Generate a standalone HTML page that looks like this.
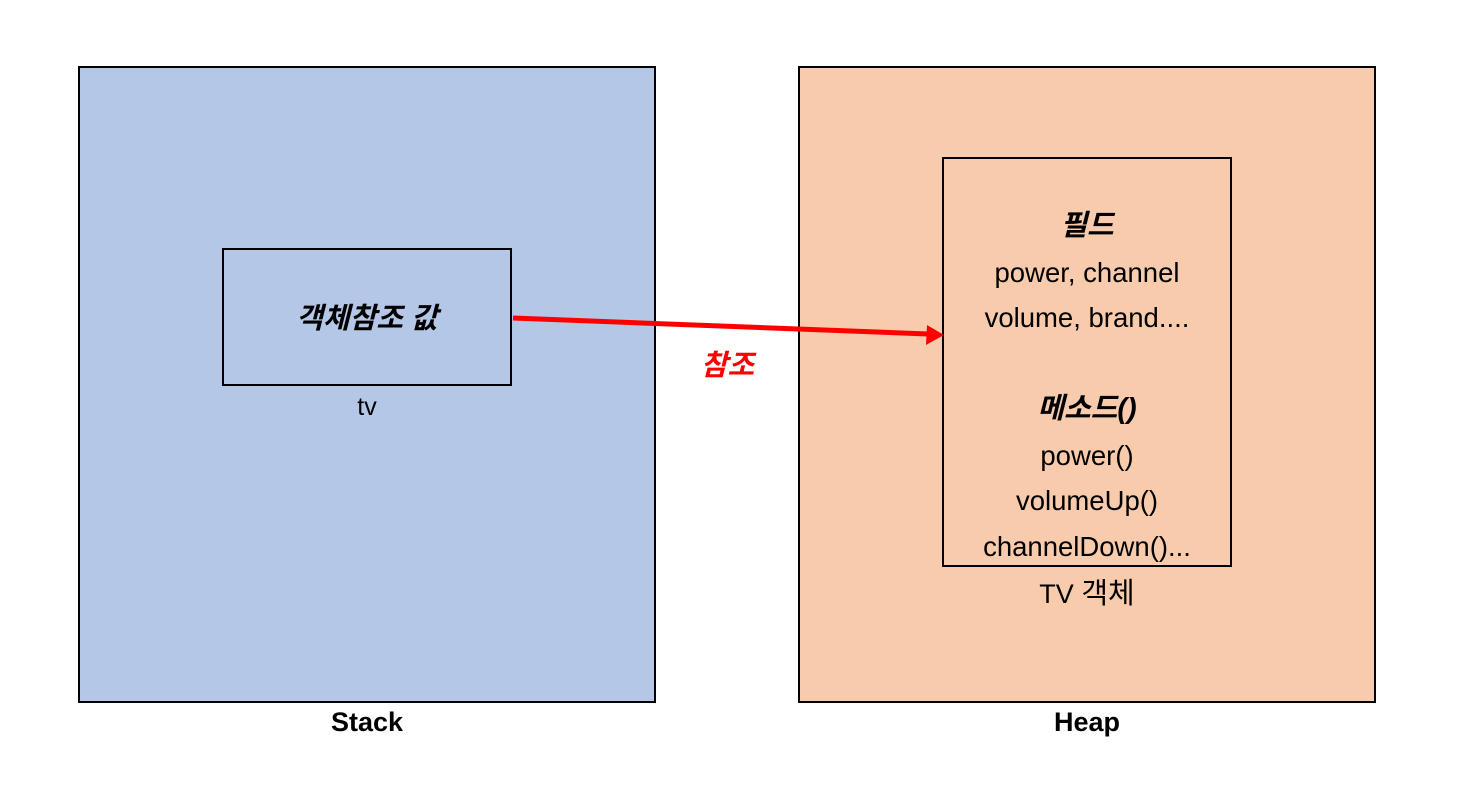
<!DOCTYPE html>
<html><head><style>
body{margin:0;width:1465px;height:792px;background:#fff;position:relative;font-family:"Liberation Sans","Noto Sans CJK KR",sans-serif;overflow:hidden}
.b{position:absolute;box-sizing:border-box;border:2px solid #000}
.t{position:absolute;text-align:center;font-size:26px;color:#000;white-space:nowrap}
.k{font-size:29px}
</style></head><body>
<div class="b" style="left:78px;top:66px;width:578px;height:637px;background:#b4c7e7"></div>
<div class="b" style="left:798px;top:66px;width:578px;height:637px;background:#f8cbad"></div>
<div class="b" style="left:222px;top:248px;width:290px;height:138px"></div>
<div class="b" style="left:942px;top:157px;width:290px;height:410px"></div>
<div class="t k" style="left:222px;width:290px;top:295px;font-weight:bold;font-style:italic">객체참조 값</div>
<div class="t" style="left:222px;width:290px;top:393px;font-size:25px">tv</div>
<div class="t" style="left:78px;width:578px;top:707px;font-weight:bold;font-size:27px">Stack</div>
<div class="t" style="left:798px;width:578px;top:707px;font-weight:bold;font-size:27px">Heap</div>
<div class="t" style="left:942px;width:290px;top:570px;font-size:27px">TV <span class="k">객체</span></div>
<div class="t" style="left:932px;width:310px;top:203px;line-height:45.5px;font-size:27.5px">
<b><i class="k">필드</i></b><br>power, channel<br>volume, brand....<br><br><b><i class="k">메소드()</i></b><br>power()<br>volumeUp()<br>channelDown()...</div>
<div class="t k" style="left:680px;width:95px;top:342px;color:#f00;font-weight:bold;font-style:italic">참조</div>
<svg style="position:absolute;left:0;top:0" width="1465" height="792">
<line x1="513" y1="318" x2="928" y2="334" stroke="#f00" stroke-width="5"/>
<polygon points="944,335 927,325 926,345" fill="#f00"/>
</svg>
</body></html>
